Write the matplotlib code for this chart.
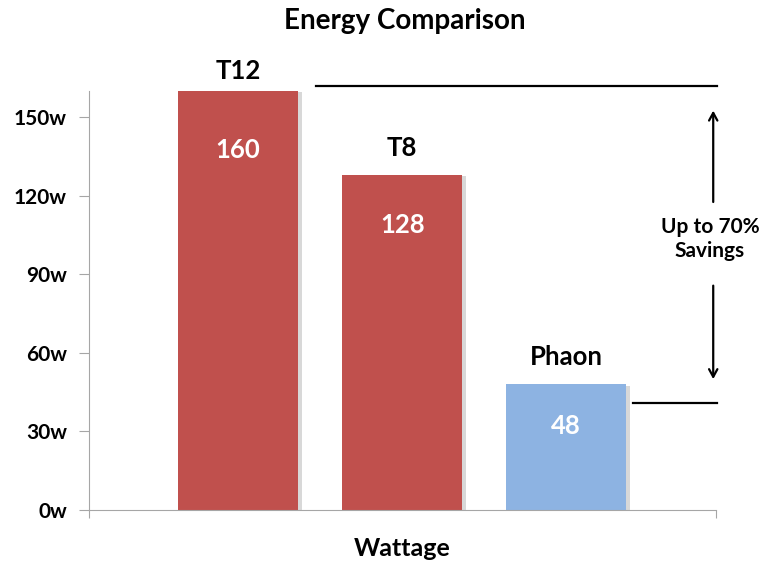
"""
Energy comparison bar chart (T12 / T8 / Phaon wattage)
"""

import matplotlib
matplotlib.use("Agg")
import matplotlib.pyplot as plt
import matplotlib.patheffects as pe

plt.rcParams['font.family'] = ['Lato', 'DejaVu Sans']

# data
lamps = ["T12", "T8", "Phaon"]
watts = [160, 128, 48]
y_ticks = [0, 30, 60, 90, 120, 150]
y_tick_labels = ["0w", "30w", "60w", "90w", "120w", "150w"]

RED = "#C0504D"
BLUE = "#8DB3E2"
AXIS_GRAY = "#A6A6A6"

fig = plt.figure(figsize=(7.81, 5.65), dpi=100)
ax = fig.add_axes([0.114, 0.0973, 0.803, 0.742])

positions = list(range(len(lamps)))
colors = [RED, RED, BLUE]
bars = ax.bar(positions, watts, width=0.73, color=colors, zorder=2)
for b in bars:
    b.set_path_effects([
        pe.SimplePatchShadow(offset=(3, -1), shadow_rgbFace="#7F7F7F", alpha=0.3),
        pe.Normal(),
    ])

ax.set_xlim(-0.909, 2.914)
ax.set_ylim(0, 160)

# name above each bar, value inside near the top
name_offsets = [8, 15, 15]
value_offsets = [-59, -50, -42]
for pos, name, val, n_off, v_off in zip(positions, lamps, watts, name_offsets, value_offsets):
    ax.annotate(name, (pos, val), xytext=(0, n_off), textcoords="offset pixels",
                ha="center", va="bottom", fontsize=18.5, fontweight="bold",
                annotation_clip=False)
    ax.annotate(str(val), (pos, val), xytext=(0, v_off), textcoords="offset pixels",
                ha="center", va="center", fontsize=18.5, fontweight="bold",
                color="white")

# savings bracket
top_y = watts[0] + 2
low_y = watts[-1] - 7
ax.plot([0.476, 2.921], [top_y, top_y], color="black", lw=1.6, clip_on=False)
ax.plot([2.409, 2.921], [low_y, low_y], color="black", lw=1.6, clip_on=False)
arrow_x = 2.896
mid_y = (top_y + low_y) / 2 + 2
head = "->,head_length=0.55,head_width=0.3"
ax.annotate("", xy=(arrow_x, 153.5), xytext=(arrow_x, 116.5),
            arrowprops=dict(arrowstyle=head, color="black", lw=1.6), annotation_clip=False)
ax.annotate("", xy=(arrow_x, 48.9), xytext=(arrow_x, 86.7),
            arrowprops=dict(arrowstyle=head, color="black", lw=1.6), annotation_clip=False)
ax.text(arrow_x - 0.02, mid_y, "Up to 70%\nSavings", ha="center", va="center",
        fontsize=15, fontweight="bold", linespacing=1.25)

# axes styling
ax.spines["top"].set_visible(False)
ax.spines["right"].set_visible(False)
ax.spines["left"].set_color(AXIS_GRAY)
ax.spines["bottom"].set_color(AXIS_GRAY)
ax.set_yticks(y_ticks)
ax.set_yticklabels(y_tick_labels, fontsize=15, fontweight="bold")
ax.tick_params(axis="y", length=7, color=AXIS_GRAY, pad=9)
ax.set_xticks([ax.get_xlim()[0], ax.get_xlim()[1]])
ax.set_xticklabels(["", ""])
ax.tick_params(axis="x", length=6, color=AXIS_GRAY)

ax.set_xlabel("Wattage", fontsize=18, fontweight="bold", labelpad=10)
fig.text(0.518, 0.962, "Energy Comparison", ha="center", va="center",
         fontsize=20, fontweight="bold")

fig.savefig("out.png", dpi=100)
